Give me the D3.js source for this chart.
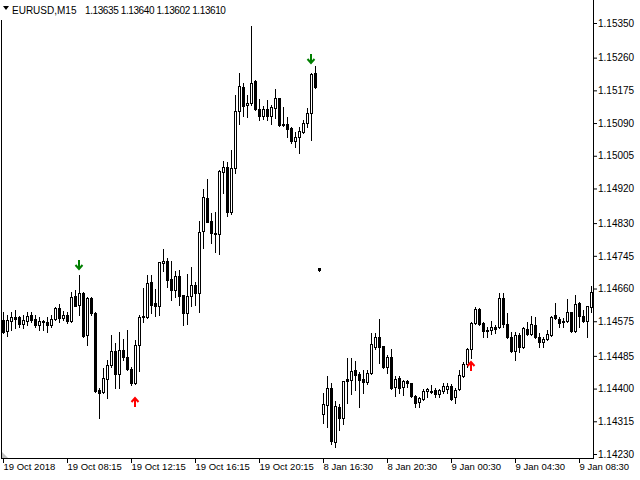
<!DOCTYPE html>
<html><head><meta charset="utf-8">
<script src="https://cdn.jsdelivr.net/npm/d3@7/dist/d3.min.js"></script>
<style>body{margin:0;background:#fff;}svg{display:block;}</style>
</head><body>
<svg id="c" width="640" height="480"></svg>
<script>
const open = [
1.14578,1.14550,1.14576,1.14586,1.14586,1.14568,1.14576,1.14591,1.14581,1.14565,
1.14576,1.14573,1.14565,1.14581,1.14610,1.14584,1.14591,1.14576,1.14641,1.14617,
1.14649,1.14539,1.14636,1.14597,1.14396,1.14391,1.14425,1.14461,1.14498,1.14438,
1.14500,1.14482,1.14451,1.14415,1.14513,1.14586,1.14586,1.14677,1.14623,1.14615,
1.14727,1.14732,1.14685,1.14656,1.14693,1.14643,1.14597,1.14641,1.14669,1.14649,
1.14810,1.14896,1.14836,1.14805,1.14802,1.14963,1.14976,1.14859,1.14974,1.15122,
1.15184,1.15137,1.15143,1.15200,1.15127,1.15109,1.15127,1.15109,1.15130,1.15156,
1.15088,1.15088,1.15078,1.15044,1.15054,1.15067,1.15091,1.15117,1.15221,1.14714,
1.14334,1.14357,1.14402,1.14261,1.14352,1.14324,1.14425,1.14422,1.14448,1.14438,
1.14425,1.14417,1.14441,1.14508,1.14534,1.14511,1.14456,1.14482,1.14404,1.14428,
1.14404,1.14420,1.14415,1.14381,1.14365,1.14373,1.14394,1.14394,1.14396,1.14386,
1.14394,1.14399,1.14407,1.14378,1.14399,1.14433,1.14464,1.14503,1.14571,1.14607,
1.14571,1.14552,1.14552,1.14560,1.14560,1.14636,1.14568,1.14534,1.14498,1.14539,
1.14508,1.14555,1.14542,1.14565,1.14534,1.14521,1.14529,1.14539,1.14591,1.14581,
1.14576,1.14576,1.14599,1.14550,1.14623,1.14589,1.14576,1.14612];
const high = [
1.14599,1.14591,1.14599,1.14604,1.14589,1.14591,1.14599,1.14599,1.14591,1.14586,
1.14578,1.14586,1.14591,1.14612,1.14620,1.14602,1.14599,1.14651,1.14656,1.14695,
1.14651,1.14638,1.14638,1.14599,1.14402,1.14454,1.14474,1.14539,1.14519,1.14547,
1.14529,1.14552,1.14456,1.14526,1.14591,1.14662,1.14695,1.14695,1.14659,1.14730,
1.14763,1.14740,1.14732,1.14706,1.14708,1.14643,1.14698,1.14716,1.14677,1.14836,
1.14919,1.14945,1.14857,1.14859,1.14968,1.14992,1.14989,1.15020,1.15163,1.15221,
1.15195,1.15163,1.15343,1.15202,1.15153,1.15135,1.15150,1.15137,1.15179,1.15156,
1.15132,1.15106,1.15080,1.15067,1.15080,1.15098,1.15130,1.15221,1.15239,1.14714,
1.14389,1.14433,1.14415,1.14368,1.14360,1.14420,1.14480,1.14480,1.14472,1.14443,
1.14448,1.14448,1.14545,1.14545,1.14581,1.14511,1.14487,1.14503,1.14433,1.14433,
1.14422,1.14422,1.14415,1.14383,1.14378,1.14399,1.14402,1.14409,1.14402,1.14399,
1.14415,1.14415,1.14412,1.14402,1.14448,1.14469,1.14506,1.14573,1.14612,1.14610,
1.14573,1.14560,1.14576,1.14565,1.14649,1.14649,1.14597,1.14547,1.14547,1.14545,
1.14560,1.14573,1.14589,1.14586,1.14545,1.14534,1.14552,1.14589,1.14623,1.14586,
1.14584,1.14633,1.14599,1.14643,1.14625,1.14604,1.14615,1.14667];
const low = [
1.14545,1.14537,1.14552,1.14558,1.14560,1.14558,1.14565,1.14573,1.14560,1.14552,
1.14552,1.14547,1.14560,1.14578,1.14573,1.14578,1.14571,1.14573,1.14615,1.14591,
1.14534,1.14513,1.14591,1.14391,1.14324,1.14389,1.14376,1.14456,1.14402,1.14402,
1.14474,1.14448,1.14409,1.14412,1.14446,1.14573,1.14584,1.14597,1.14589,1.14591,
1.14706,1.14664,1.14630,1.14638,1.14617,1.14565,1.14568,1.14615,1.14617,1.14599,
1.14766,1.14833,1.14779,1.14755,1.14750,1.14909,1.14849,1.14854,1.14961,1.15088,
1.15109,1.15106,1.15137,1.15124,1.15098,1.15101,1.15098,1.15088,1.15104,1.15083,
1.15083,1.15054,1.15039,1.15028,1.15013,1.15065,1.15080,1.15046,1.15182,1.14706,
1.14311,1.14300,1.14256,1.14248,1.14292,1.14308,1.14363,1.14386,1.14396,1.14352,
1.14389,1.14412,1.14438,1.14503,1.14467,1.14454,1.14441,1.14399,1.14381,1.14389,
1.14383,1.14404,1.14378,1.14352,1.14352,1.14370,1.14378,1.14389,1.14378,1.14378,
1.14389,1.14389,1.14370,1.14363,1.14396,1.14430,1.14456,1.14480,1.14568,1.14565,
1.14534,1.14534,1.14542,1.14545,1.14558,1.14560,1.14532,1.14495,1.14474,1.14495,
1.14506,1.14539,1.14539,1.14532,1.14508,1.14508,1.14526,1.14537,1.14581,1.14560,
1.14560,1.14573,1.14547,1.14547,1.14560,1.14573,1.14534,1.14599];
const close = [
1.14547,1.14578,1.14586,1.14581,1.14568,1.14578,1.14589,1.14578,1.14565,1.14576,
1.14573,1.14565,1.14581,1.14610,1.14584,1.14591,1.14576,1.14638,1.14615,1.14649,
1.14537,1.14636,1.14597,1.14394,1.14389,1.14428,1.14461,1.14498,1.14438,1.14500,
1.14482,1.14451,1.14415,1.14513,1.14586,1.14589,1.14675,1.14617,1.14615,1.14729,
1.14732,1.14682,1.14656,1.14693,1.14641,1.14597,1.14641,1.14669,1.14649,1.14807,
1.14898,1.14833,1.14805,1.14802,1.14966,1.14976,1.14859,1.14974,1.15122,1.15187,
1.15135,1.15143,1.15195,1.15127,1.15109,1.15127,1.15109,1.15132,1.15156,1.15085,
1.15085,1.15075,1.15044,1.15054,1.15070,1.15091,1.15117,1.15218,1.15184,1.14708,
1.14360,1.14402,1.14264,1.14355,1.14324,1.14420,1.14420,1.14446,1.14435,1.14422,
1.14417,1.14441,1.14516,1.14534,1.14508,1.14456,1.14482,1.14402,1.14425,1.14402,
1.14420,1.14415,1.14381,1.14363,1.14376,1.14394,1.14399,1.14391,1.14386,1.14396,
1.14407,1.14407,1.14373,1.14396,1.14435,1.14464,1.14503,1.14571,1.14607,1.14568,
1.14550,1.14550,1.14560,1.14555,1.14636,1.14568,1.14534,1.14498,1.14539,1.14508,
1.14558,1.14542,1.14568,1.14534,1.14521,1.14529,1.14542,1.14586,1.14584,1.14571,
1.14573,1.14599,1.14550,1.14620,1.14589,1.14576,1.14615,1.14651];

const priceTicks = [1.15350,1.15260,1.15175,1.15090,1.15005,1.14920,1.14830,1.14745,1.14660,1.14575,1.14485,1.14400,1.14315,1.14230];
const timeTickBars = [0,16,32,48,64,80,96,112,128,144];
const timeTickLabels = ["19 Oct 2018","19 Oct 08:15","19 Oct 12:15","19 Oct 16:15","19 Oct 20:15","8 Jan 16:30","8 Jan 20:30","9 Jan 00:30","9 Jan 04:30","9 Jan 08:30"];
const sellBars = [19, 77];
const sellPrices = [1.14721, 1.15257];
const buyBars = [33, 117];
const buyPrices = [1.14365, 1.14459];
const symbolText = "EURUSD,M15";
const lastBarText = "1.13635 1.13640 1.13602 1.13610";

const FONT = "'Liberation Sans', Arial, sans-serif";
const svg = d3.select("#c");
const n = open.length;
const x = d3.scaleLinear().domain([0, n - 1]).range([3, 591]);
const y = d3.scaleLinear().domain([1.14230, 1.15350]).range([454, 23]);
const R = v => Math.round(v);

// frame
svg.append("rect").attr("x",0).attr("y",0).attr("width",640).attr("height",480).attr("fill","#fff");
svg.append("line").attr("x1",1.5).attr("x2",1.5).attr("y1",20).attr("y2",458).attr("stroke","#000");
svg.append("line").attr("x1",1).attr("x2",594).attr("y1",458.5).attr("y2",458.5).attr("stroke","#000");
svg.append("line").attr("x1",593.5).attr("x2",593.5).attr("y1",0).attr("y2",459).attr("stroke","#000");
svg.append("polygon").attr("points","2,452 2,458 8,458").attr("fill","#c0c0c0");

// candles
const idx = d3.range(n);
const g = svg.append("g");
idx.forEach(i => {
  const cx = R(x(i));
  const yo = R(y(open[i])), yc = R(y(close[i])), yh = R(y(high[i])), yl = R(y(low[i]));
  g.append("rect").attr("x", cx).attr("y", yh).attr("width", 1).attr("height", Math.max(1, yl - yh + 1)).attr("fill", "#000");
  const top = Math.min(yo, yc), bot = Math.max(yo, yc);
  if (close[i] > open[i] && bot - top >= 2) {
    g.append("rect").attr("x", cx - 0.5).attr("y", top + 0.5).attr("width", 2).attr("height", bot - top)
      .attr("fill", "#fff").attr("stroke", "#000").attr("stroke-width", 1);
  } else {
    g.append("rect").attr("x", cx - 1).attr("y", top).attr("width", 3).attr("height", bot - top + 1).attr("fill", "#000");
  }
});

// signal arrows
function arrow(cx, cy, dir, color) {
  const p = dir < 0
    ? `M${cx},${cy-5} L${cx},${cy+4} M${cx-3.5},${cy} L${cx},${cy+4} L${cx+3.5},${cy}`
    : `M${cx},${cy+5} L${cx},${cy-4} M${cx-3.5},${cy} L${cx},${cy-4} L${cx+3.5},${cy}`;
  svg.append("path").attr("d", p).attr("fill", "none").attr("stroke", color).attr("stroke-width", 2);
}
sellBars.forEach((b, k) => arrow(R(x(b)), R(y(sellPrices[k])), -1, "#007f00"));
buyBars.forEach((b, k) => arrow(R(x(b)), R(y(buyPrices[k])), 1, "#ff0000"));

// price axis
const ya = svg.append("g").attr("transform", "translate(594,0)")
  .call(d3.axisRight(y).tickValues(priceTicks).tickFormat(d3.format(".5f")).tickSize(3).tickSizeOuter(0));
ya.select(".domain").remove();
ya.selectAll(".tick line").attr("stroke", "#000");
ya.selectAll(".tick text").attr("x", 4).attr("font-family", FONT).attr("font-size", 10).attr("fill", "#000");

// time axis
const xa = svg.append("g").attr("transform", "translate(0,459)")
  .call(d3.axisBottom(x).tickValues(timeTickBars).tickFormat((d, i) => timeTickLabels[i]).tickSize(4).tickSizeOuter(0));
xa.select(".domain").remove();
xa.selectAll(".tick line").attr("stroke", "#000");
xa.selectAll(".tick text").attr("text-anchor", "start").attr("x", 0).attr("y", 4).attr("dy", "0.71em")
  .attr("font-family", FONT).attr("font-size", 9.5).attr("fill", "#000");

// header
svg.append("polygon").attr("points", "3,6 9,6 6,10").attr("fill", "#000");
svg.append("text").attr("x", 12).attr("y", 14).attr("font-family", FONT).attr("font-size", 10).attr("fill", "#000").text(symbolText);
svg.append("text").attr("x", 85).attr("y", 14).attr("font-family", FONT).attr("font-size", 10).attr("letter-spacing", -0.4).attr("fill", "#000").text(lastBarText);
</script>
</body></html>
